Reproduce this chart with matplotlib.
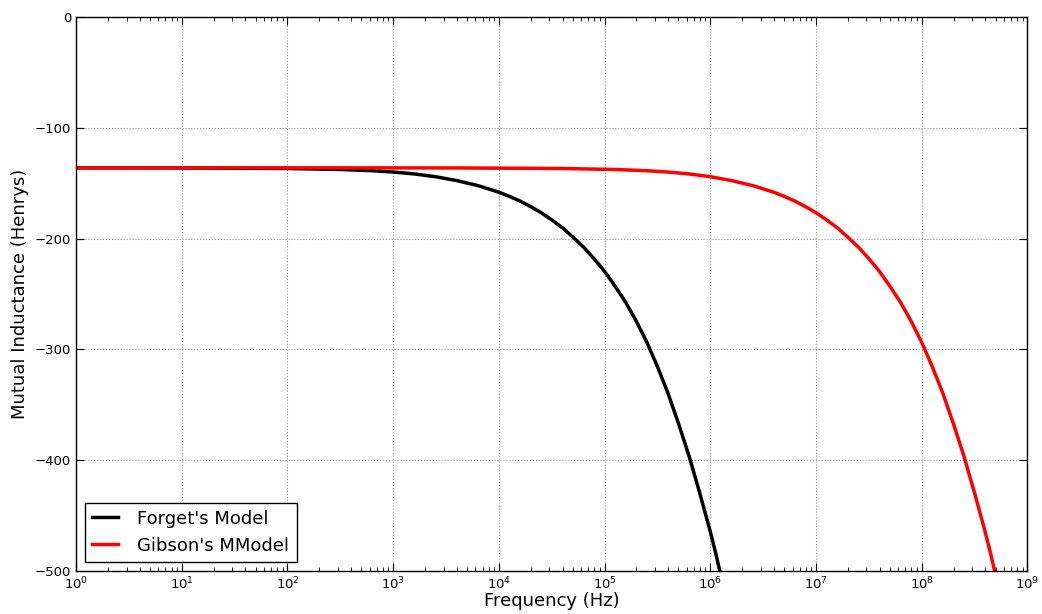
#!/usr/bin/env python
"""Mutual inductance vs frequency for the two models."""
import numpy as np
import matplotlib
matplotlib.use("Agg")
import matplotlib.pyplot as plt

# values (log10 of frequency in Hz, inductance in H)
forget_logf = [0, 1, 2, 2.5, 2.8, 3.0, 3.2, 3.4, 3.6, 3.8, 4.0, 4.1, 4.2, 4.3, 4.4,
               4.5, 4.6, 4.7, 4.8, 4.9, 5.0, 5.1, 5.2, 5.3, 5.4, 5.5, 5.6, 5.7, 5.8,
               5.9, 6.0, 6.05, 6.09]
forget_m = [-136, -136.1, -136.6, -137.5, -138.6, -139.8, -141.5, -144, -147.5, -152,
            -158, -161.8, -166, -171, -176.5, -183, -190, -198.5, -207.5, -218, -229.5,
            -243, -257.5, -274.5, -293.5, -315.5, -339.5, -367, -396.5, -429.5, -464.5,
            -483.5, -500]

gibson_logf = [0, 2, 3.6, 4.6, 5.1, 5.4, 5.6, 5.8, 6.0, 6.2, 6.4, 6.6, 6.7, 6.8, 6.9,
               7.0, 7.1, 7.2, 7.3, 7.4, 7.5, 7.6, 7.7, 7.8, 7.9, 8.0, 8.1, 8.2, 8.3,
               8.4, 8.5, 8.6, 8.65, 8.69]
gibson_m = [-136, -136, -136.1, -136.6, -137.5, -138.6, -139.8, -141.5, -144, -147.5,
            -152, -158, -161.8, -166, -171, -176.5, -183, -190, -198.5, -207.5, -218,
            -229.5, -243, -257.5, -274.5, -293.5, -315.5, -339.5, -367, -396.5, -429.5,
            -464.5, -483.5, -500]

labels = ["Forget's Model", "Gibson's MModel"]
colors = ["black", "red"]

fig = plt.figure(figsize=(10.42, 6.14), dpi=100)
ax = fig.add_axes([0.073, 0.070, 0.913, 0.902])

ax.plot(10.0 ** np.array(forget_logf), forget_m, color=colors[0], lw=2.5, label=labels[0])
ax.plot(10.0 ** np.array(gibson_logf), gibson_m, color=colors[1], lw=2.5, label=labels[1])

ax.set_xscale("log")
ax.set_xlim(1, 1e9)
ax.set_ylim(-500, 0)
ax.set_yticks(np.arange(-500, 1, 100))
ax.grid(True, which="major", color="0.6", linestyle=":", linewidth=0.8)

ax.tick_params(which="both", direction="in", top=True, right=True, labelsize=9.5)
ax.tick_params(which="major", length=6)
ax.tick_params(which="minor", length=3)
for s in ax.spines.values():
    s.set_linewidth(1.0)

ax.set_xlabel("Frequency (Hz)", fontsize=13, labelpad=0)
ax.set_ylabel("Mutual Inductance (Henrys)", fontsize=13)

leg = ax.legend(loc="lower left", fontsize=13, fancybox=False, handlelength=1.4,
                handletextpad=1.1, borderaxespad=0.5, framealpha=1)
leg.get_frame().set_edgecolor("black")

fig.savefig("out.png", dpi=100)
